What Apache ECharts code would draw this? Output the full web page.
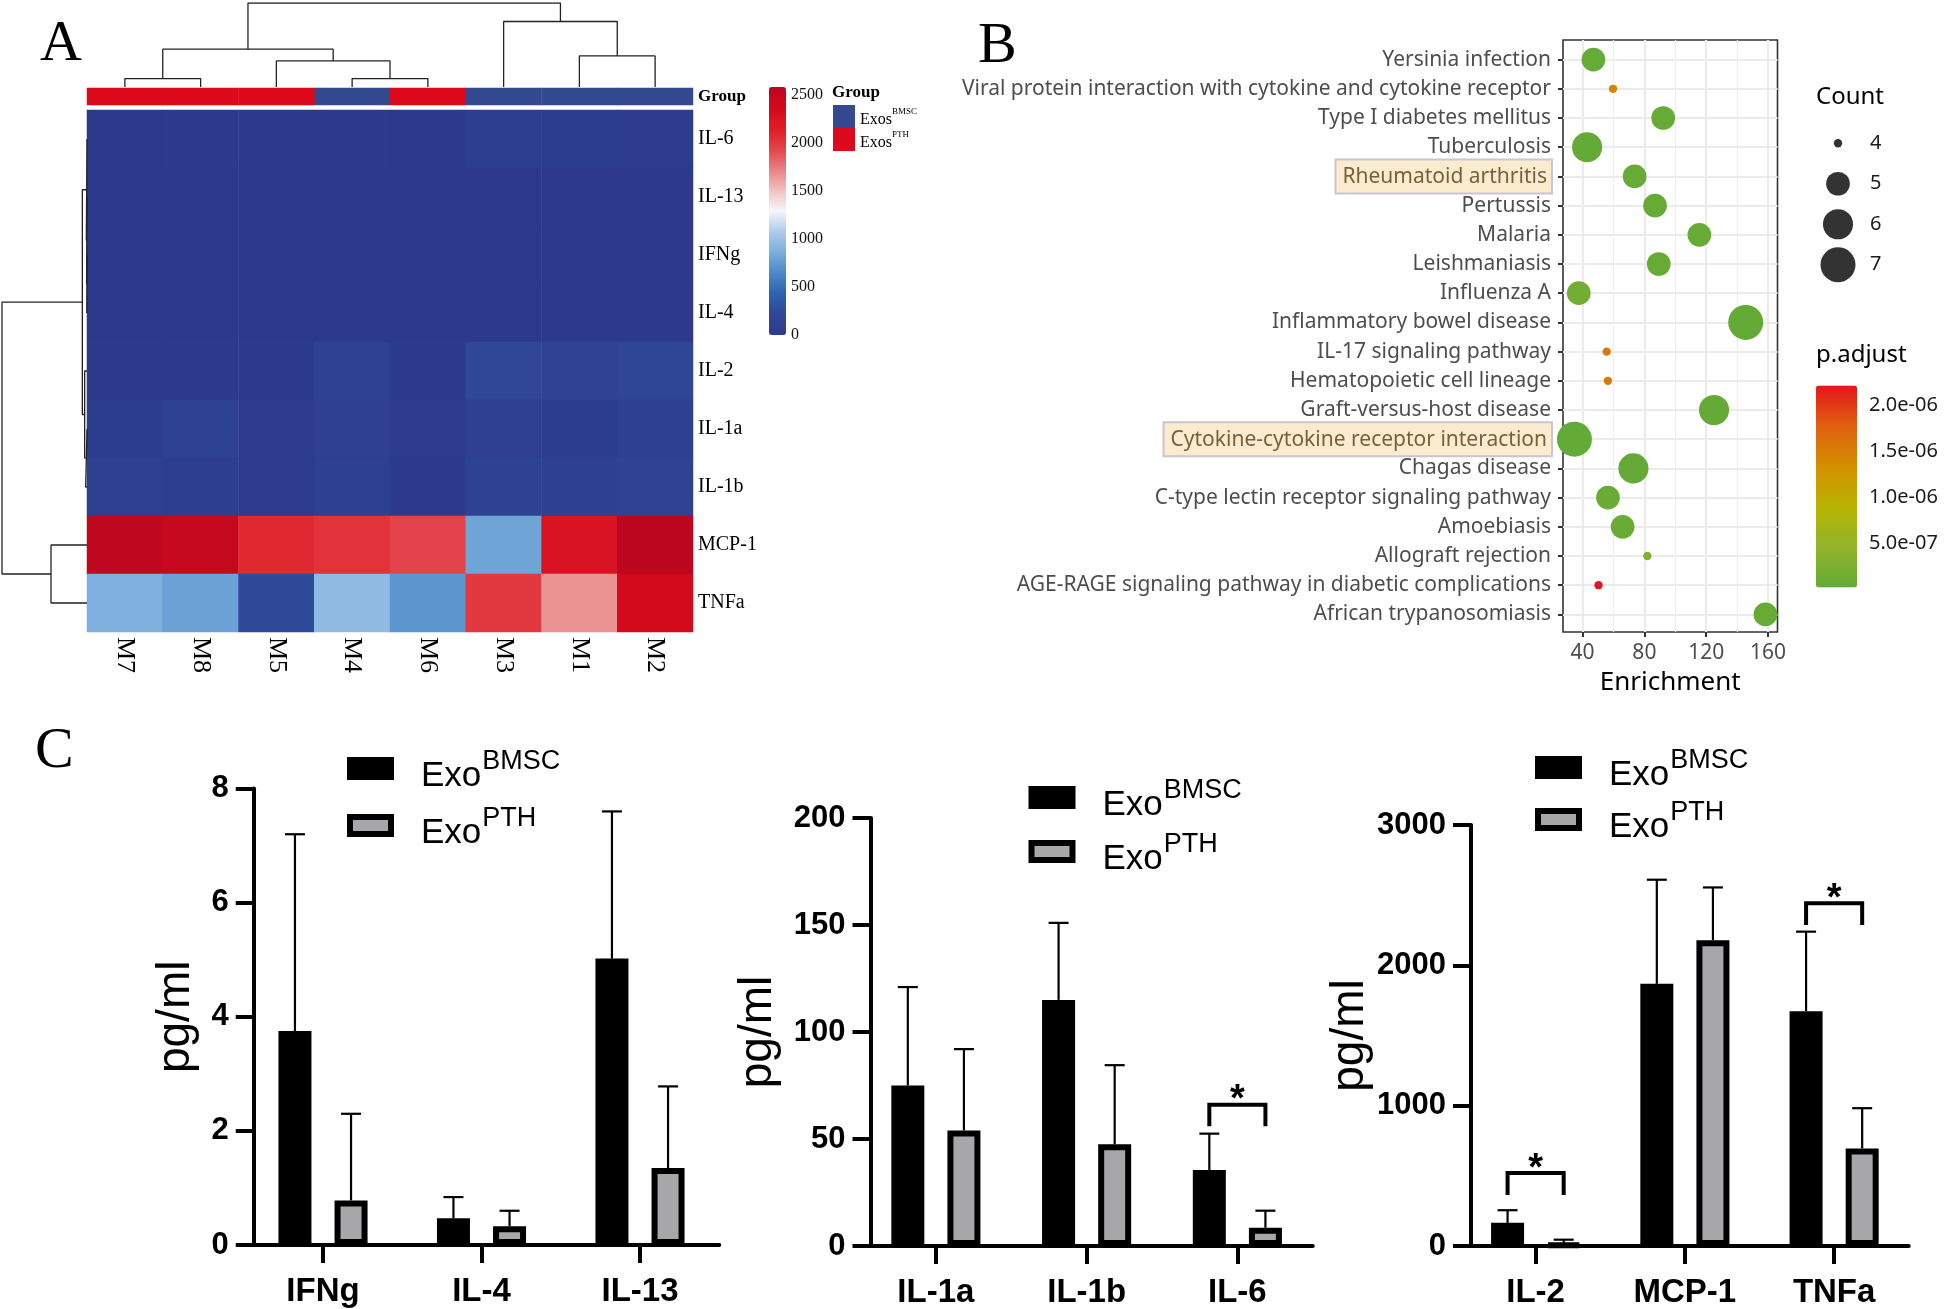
<!DOCTYPE html>
<html><head><meta charset="utf-8">
<script src="https://cdn.jsdelivr.net/npm/echarts@6/dist/echarts.min.js"></script>
<style>html,body{margin:0;padding:0;background:#fff}#c{width:1944px;height:1309px}</style>
</head><body><div id="c"></div>
<script>
// ================= Panel A: heatmap data =================
const heatCols = ['M7','M8','M5','M4','M6','M3','M1','M2'];
const heatRows = ['IL-6','IL-13','IFNg','IL-4','IL-2','IL-1a','IL-1b','MCP-1','TNFa'];
const colGroup = ['PTH','PTH','PTH','BMSC','PTH','BMSC','BMSC','BMSC'];
const vIL6  = [5, 10, 12, 12, 7, 60, 40, 30];
const vIL13 = [1.2, 1.5, 1.0, 4, 1.7, 6, 5, 5];
const vIFNg = [0.5, 1.0, 0.6, 3, 1.0, 4.5, 3.5, 4];
const vIL4  = [0.3, 0.4, 0.3, 0.4, 0.3, 0.6, 0.4, 0.5];
const vIL2  = [15, 12, 10, 130, 11, 200, 150, 180];
const vIL1a = [40, 120, 30, 80, 25, 70, 50, 100];
const vIL1b = [80, 60, 30, 100, 20, 120, 90, 150];
const vMCP1 = [2550, 2480, 2080, 2030, 1940, 800, 2260, 2560];
const vTNFa = [870, 790, 230, 950, 720, 2000, 1660, 2370];
const heatMax = 2583;
const heatTicks = [0, 500, 1000, 1500, 2000, 2500];
const heatPalette = ['#2D3A8C','#2F4896','#2E63AD','#4C89C7','#7CAEDC','#AFCBEA','#F5F7FB','#F2C0C0','#E98282','#E3444A','#E01B25','#D20A1C','#BB0620'];
// dendrograms: [childA, childB, height]; strings = leaves, numbers = earlier merge (1-based)
const colTree = [['M7','M8',10],['M4','M6',10],['M5',2,31],[1,3,45],['M1','M2',37],['M3',5,78],[4,6,100]];
const rowTree = [['IFNg','IL-4',0.6],['IL-13',1,1.2],['IL-6',2,2],['IL-1a','IL-1b',4],['IL-2',4,7],[3,5,14],['MCP-1','TNFa',108],[6,7,255]];

// ================= Panel B: enrichment data =================
const pathways = ['Yersinia infection','Viral protein interaction with cytokine and cytokine receptor','Type I diabetes mellitus','Tuberculosis','Rheumatoid arthritis','Pertussis','Malaria','Leishmaniasis','Influenza A','Inflammatory bowel disease','IL-17 signaling pathway','Hematopoietic cell lineage','Graft-versus-host disease','Cytokine-cytokine receptor interaction','Chagas disease','C-type lectin receptor signaling pathway','Amoebiasis','Allograft rejection','AGE-RAGE signaling pathway in diabetic complications','African trypanosomiasis'];
const enrichment = [47, 59.7, 92.2, 42.9, 73.7, 86.9, 115.6, 89.3, 37.5, 145.6, 55.6, 56.4, 125.1, 34.7, 72.9, 56.4, 65.9, 81.9, 50.3, 158.4];
const geneCount  = [5, 4, 5, 6, 5, 5, 5, 5, 5, 7, 4, 4, 6, 7, 6, 5, 5, 4, 4, 5];
const pAdjust    = [4e-8, 1.45e-6, 5e-8, 2e-8, 5e-8, 5e-8, 5e-8, 5e-8, 1.6e-7, 2e-8, 1.55e-6, 1.55e-6, 3e-8, 1.5e-8, 3e-8, 7e-8, 7e-8, 2.9e-7, 2.21e-6, 5e-8];
const highlighted = ['Rheumatoid arthritis','Cytokine-cytokine receptor interaction'];
const enrichTicks = [40, 80, 120, 160];
const enrichMinor = [60, 100, 140];
const countLegend = [4, 5, 6, 7];
const pTicks = [5e-7, 1e-6, 1.5e-6, 2e-6];
const pMin = 1.5e-8, pMax = 2.21e-6;

// ================= Panel C: ELISA data =================
const c1Cats = ['IFNg','IL-4','IL-13'];
const c1Bmsc = [3.75, 0.47, 5.02];  const c1BmscSd = [3.45, 0.37, 2.58];
const c1Pth  = [0.78, 0.33, 1.35];  const c1PthSd  = [1.52, 0.27, 1.43];
const c2Cats = ['IL-1a','IL-1b','IL-6'];
const c2Bmsc = [75, 115, 35.5];     const c2BmscSd = [46, 36, 17];
const c2Pth  = [54, 47.5, 8.5];     const c2PthSd  = [38, 37, 8];
const c3Cats = ['IL-2','MCP-1','TNFa'];
const c3Bmsc = [165, 1868, 1673];   const c3BmscSd = [90, 742, 567];
const c3Pth  = [12, 2178, 695];     const c3PthSd  = [33, 377, 287];
// significance brackets: [category index, bracket top, leg bottom]
const c2Sig = [[2, 66, 56]];
const c3Sig = [[0, 520, 363], [2, 2443, 2288]];

// ================= build =================
const SERIF = 'Liberation Serif', SANS = 'Liberation Sans', NOTO = 'Noto Sans';
const rowVals = [vIL6, vIL13, vIFNg, vIL4, vIL2, vIL1a, vIL1b, vMCP1, vTNFa];
const heatData = [];
rowVals.forEach((arr, r) => arr.forEach((v, c) => heatData.push([c, r, v])));

function buildLinks(leaves, tree) {
  const pos = {}; leaves.forEach((n, i) => pos[n] = i);
  const nodes = [], links = [];
  const get = ref => typeof ref === 'string' ? {x: pos[ref], h: 0} : nodes[ref - 1];
  tree.forEach(([a, b, h]) => {
    const A = get(a), B = get(b);
    links.push([[A.x, A.h], [A.x, h], [B.x, h], [B.x, B.h]]);
    nodes.push({x: (A.x + B.x) / 2, h: h});
  });
  return links;
}
const colLinks = buildLinks(heatCols, colTree);
const rowLinks = buildLinks(heatRows, rowTree);

const series = [];
const hide = {show: false};
series.push({type:'heatmap', xAxisIndex:0, yAxisIndex:0, data: heatData, emphasis:{disabled:true}, silent:true});
series.push({type:'heatmap', name:'Exos_BMSC', xAxisIndex:1, yAxisIndex:1, itemStyle:{color:'#34498F'},
  data: colGroup.map((g,i)=> g==='BMSC' ? [i,0,1] : null).filter(Boolean), silent:true});
series.push({type:'heatmap', name:'Exos_PTH', xAxisIndex:1, yAxisIndex:1, itemStyle:{color:'#DC0A1C'},
  data: colGroup.map((g,i)=> g==='PTH' ? [i,0,1] : null).filter(Boolean), silent:true});
colLinks.forEach(l => series.push({type:'line', xAxisIndex:2, yAxisIndex:2, data:l, symbol:'none', silent:true,
  lineStyle:{color:'#222', width:1.3}}));
rowLinks.forEach(l => series.push({type:'line', xAxisIndex:3, yAxisIndex:3, data:l.map(p=>[p[1],p[0]]), symbol:'none', silent:true,
  lineStyle:{color:'#222', width:1.3}}));

function countSize(c) { const t = (c - 4) / 3; return 3 + 32 * (1 + 5 * Math.sqrt(Math.max(t,0))) / 6; }
const scatterIndex = series.length;
series.push({type:'scatter', xAxisIndex:5, yAxisIndex:5, silent:true,
  data: pathways.map((p,i)=>[enrichment[i], p, geneCount[i], pAdjust[i]]),
  encode:{x:0, y:1}, symbolSize: v => countSize(v[2]), itemStyle:{opacity:1}});
series.push({type:'scatter', xAxisIndex:6, yAxisIndex:6, silent:true,
  data: countLegend.map(c => [0, String(c), c]), symbolSize: v => countSize(v[2]), itemStyle:{color:'#000'}});

// Panel C
const BAR_W = 33, BAR_GAP = 0.7, BAR_OFF = BAR_W * (1 + BAR_GAP) / 2;
function errRender(sign) {
  return function (params, api) {
    const x = api.value(0), m = api.value(1), sd = api.value(2);
    const p0 = api.coord([x, m]), p1 = api.coord([x, m + sd]);
    const cx = p0[0] + sign * BAR_OFF;
    return {type:'group', children:[
      {type:'line', shape:{x1:cx, y1:p0[1], x2:cx, y2:p1[1]}, style:{stroke:'#000', lineWidth:2.2}},
      {type:'line', shape:{x1:cx-10, y1:p1[1], x2:cx+10, y2:p1[1]}, style:{stroke:'#000', lineWidth:2.2}}
    ]};
  };
}
function sigRender(params, api) {
  const x = api.value(0);
  const t = api.coord([x, api.value(1)]), b = api.coord([x, api.value(2)]);
  const x1 = t[0] - BAR_OFF, x2 = t[0] + BAR_OFF;
  return {type:'group', children:[
    {type:'polyline', shape:{points:[[x1,b[1]],[x1,t[1]],[x2,t[1]],[x2,b[1]]]}, style:{stroke:'#000', lineWidth:4, fill:null}},
    {type:'text', style:{text:'*', x:t[0], y:t[1]-4, align:'center', verticalAlign:'middle', font:'bold 38px "Liberation Sans"', fill:'#000'}}
  ]};
}
const cSets = [
  [c1Cats, c1Bmsc, c1BmscSd, c1Pth, c1PthSd, []],
  [c2Cats, c2Bmsc, c2BmscSd, c2Pth, c2PthSd, c2Sig],
  [c3Cats, c3Bmsc, c3BmscSd, c3Pth, c3PthSd, c3Sig]
];
cSets.forEach((s, k) => {
  const xi = 10 + k, yi = 9 + k;
  series.push({type:'bar', name:'ExoBMSC', xAxisIndex:xi, yAxisIndex:yi, data:s[1], barWidth:BAR_W, barGap:(BAR_GAP*100)+'%',
    itemStyle:{color:'#000', borderColor:'#000', borderWidth:6}, silent:true});
  series.push({type:'bar', name:'ExoPTH', xAxisIndex:xi, yAxisIndex:yi, data:s[3], barWidth:BAR_W, barGap:(BAR_GAP*100)+'%',
    itemStyle:{color:'#A7A7AA', borderColor:'#000', borderWidth:6}, silent:true});
  series.push({type:'custom', name:'errB'+k, xAxisIndex:xi, yAxisIndex:yi, z:1, silent:true,
    data:s[1].map((m,i)=>[i,m,s[2][i]]), renderItem: errRender(-1)});
  series.push({type:'custom', name:'errP'+k, xAxisIndex:xi, yAxisIndex:yi, z:1, silent:true,
    data:s[3].map((m,i)=>[i,m,s[4][i]]), renderItem: errRender(1)});
  if (s[5].length) series.push({type:'custom', name:'sig'+k, xAxisIndex:xi, yAxisIndex:yi, z:3, silent:true,
    data:s[5], renderItem: sigRender});
});

function sci(v) {
  const e = Math.floor(Math.log10(v) + 1e-9), m = v / Math.pow(10, e);
  return m.toFixed(1) + 'e' + (e < 0 ? '-' : '+') + String(Math.abs(e)).padStart(2, '0');
}
const plain = v => String(v);

const cGrids = [
  {left:243.75, top:788.6, width:475.5, height:456.4},
  {left:860.5, top:818, width:452.25, height:436},
  {left:1461, top:825, width:447.75, height:425.5}
];
const cY = [{max:8, interval:2, gap:54}, {max:200, interval:50, gap:89}, {max:3000, interval:1000, gap:94}];
const B_LEFT = 1563, B_W = 214.5, X_MIN = 27.3, X_MAX = 166.2;

const grids = [
  {left:87, top:110, width:606, height:522},      // 0 heatmap
  {left:87, top:88, width:606, height:17},        // 1 group bar
  {left:87, top:3, width:606, height:84},         // 2 col dendrogram
  {left:2, top:110, width:85, height:522},        // 3 row dendrogram
  {left:769, top:87, width:17, height:248},       // 4 colorbar A labels
  {left:B_LEFT, top:45, width:B_W, height:584},   // 5 B scatter
  {left:1824, top:123, width:28, height:162},     // 6 count legend
  {left:1816, top:385.5, width:41, height:202}    // 7 p colorbar axes
].concat(cGrids).concat([
  {left:B_LEFT, top:40, width:B_W, height:592, show:true, borderColor:'#333', borderWidth:1.6, backgroundColor:'transparent'} // 11 B frame
]);

const xAxes = [
  {gridIndex:0, type:'category', data:heatCols, position:'bottom', axisLine:hide, axisTick:hide,
    axisLabel:{interval:0, rotate:-90, margin:5, fontFamily:SERIF, fontSize:26, color:'#000'}},
  {gridIndex:1, type:'category', data:heatCols, show:false},
  {gridIndex:2, type:'value', min:-0.5, max:7.5, show:false},
  {gridIndex:3, type:'value', min:0, max:255, inverse:true, show:false},
  {gridIndex:4, type:'value', min:0, max:1, show:false},
  {gridIndex:5, type:'value', min:X_MIN, max:X_MAX, show:false},
  {gridIndex:6, type:'value', min:-1, max:1, show:false},
  {gridIndex:7, type:'value', min:0, max:1, show:false},
  {gridIndex:11, type:'value', min:X_MIN, max:X_MAX, position:'bottom',
    axisLine:{show:false}, axisTick:{show:true, length:5, customValues:enrichTicks, lineStyle:{color:'#333', width:2}},
    axisLabel:{customValues:enrichTicks, margin:11, fontFamily:NOTO, fontSize:21, color:'#4D4D4D'},
    splitLine:{show:true, lineStyle:{color:'#EBEBEB', width:2.2}},
    name:'Enrichment', nameLocation:'middle', nameGap:38, nameTextStyle:{fontFamily:NOTO, fontSize:26, color:'#000'}},
  {gridIndex:11, type:'value', min:X_MIN, max:X_MAX, position:'top', axisLine:hide, axisLabel:hide,
    axisTick:{show:false, customValues:enrichMinor}, splitLine:{show:true, lineStyle:{color:'#EFEFEF', width:1.2}}}
];
const yAxes = [
  {gridIndex:0, type:'category', data:heatRows, inverse:true, position:'right', axisLine:hide, axisTick:hide,
    axisLabel:{interval:0, margin:5, fontFamily:SERIF, fontSize:20, color:'#000'}},
  {gridIndex:1, type:'category', data:['Group'], position:'right', axisLine:hide, axisTick:hide,
    axisLabel:{margin:5, fontFamily:SERIF, fontSize:17, fontWeight:'bold', color:'#000'}},
  {gridIndex:2, type:'value', min:0, max:100, show:false},
  {gridIndex:3, type:'value', min:-0.5, max:8.5, inverse:true, show:false},
  {gridIndex:4, type:'value', min:0, max:heatMax, position:'right', axisLine:hide, splitLine:hide,
    axisTick:{show:false, customValues:heatTicks},
    axisLabel:{customValues:heatTicks, formatter:plain, margin:5, fontFamily:SERIF, fontSize:16, color:'#111'}},
  {gridIndex:5, type:'category', data:pathways, inverse:true, position:'left', axisLine:hide,
    axisTick:{show:true, alignWithLabel:true, interval:0, length:5, lineStyle:{color:'#333', width:2}},
    splitLine:{show:true, alignWithLabel:true, interval:0, lineStyle:{color:'#EBEBEB', width:2.2}},
    axisLabel:{interval:0, margin:12, fontFamily:NOTO, fontSize:21, color:'#4D4D4D',
      formatter: v => highlighted.indexOf(v) >= 0 ? '{hl|' + v + '}' : v,
      rich:{hl:{fontFamily:NOTO, fontSize:21, color:'#7A5F3C', backgroundColor:'#FBEBCF',
        borderColor:'#C9C6D3', borderWidth:2, padding:[6,4,5,6]}}}},
  {gridIndex:6, type:'category', data:countLegend.map(String), inverse:true, position:'right', axisLine:hide, axisTick:hide,
    axisLabel:{margin:18, fontFamily:NOTO, fontSize:20, color:'#1A1A1A'}},
  {gridIndex:7, type:'value', min:pMin, max:pMax, position:'right', axisLine:hide, splitLine:hide,
    axisTick:{show:true, inside:true, length:8, customValues:pTicks, lineStyle:{color:'#fff', width:1.5}},
    axisLabel:{customValues:pTicks, margin:12, formatter: v => sci(v), fontFamily:NOTO, fontSize:20, color:'#1A1A1A'}},
  {gridIndex:7, type:'value', min:pMin, max:pMax, position:'left', axisLine:hide, splitLine:hide, axisLabel:hide,
    axisTick:{show:true, inside:true, length:8, customValues:pTicks, lineStyle:{color:'#fff', width:1.5}}}
];
cSets.forEach((s, k) => {
  yAxes.push({gridIndex:8+k, type:'value', min:0, max:cY[k].max, interval:cY[k].interval, offset:-10,
    axisLine:{show:true, lineStyle:{color:'#000', width:4}},
    axisTick:{show:true, length:18, lineStyle:{color:'#000', width:4}},
    axisLabel:{margin:25, formatter:plain, fontFamily:SANS, fontWeight:'bold', fontSize:31, color:'#000'},
    splitLine:hide,
    name:'pg/ml', nameLocation:'middle', nameRotate:90, nameGap:cY[k].gap,
    nameTextStyle:{fontFamily:SANS, fontSize:46, color:'#000'}});
});
cSets.forEach((s, k) => {
  xAxes.push({gridIndex:8+k, type:'category', data:s[0],
    axisLine:{show:true, lineStyle:{color:'#000', width:4}},
    axisTick:{show:true, alignWithLabel:true, length:18, lineStyle:{color:'#000', width:4}},
    axisLabel:{interval:0, margin:30, fontFamily:SANS, fontWeight:'bold', fontSize:33, color:'#000'}});
});
yAxes.push({gridIndex:11, type:'value', min:0, max:1, show:false});

const cLegendRich = {
  b:{fontFamily:SANS, fontSize:35, color:'#000', lineHeight:36, padding:[16,0,0,25]},
  s:{fontFamily:SANS, fontSize:27, color:'#000', lineHeight:28, padding:[5,0,19,1]}
};
function cLegend(left, top, gap) {
  return {left:left, top:top, orient:'vertical', padding:0, itemWidth:41, itemHeight:17, itemGap:gap, icon:'rect', selectedMode:false,
    data:[{name:'ExoBMSC', itemStyle:{color:'#000', borderColor:'#000', borderWidth:6}},
          {name:'ExoPTH', itemStyle:{color:'#A7A7AA', borderColor:'#000', borderWidth:6}}],
    formatter: n => '{b|Exo}{s|' + n.slice(3) + '}', textStyle:{rich:cLegendRich}};
}

const titleStyle = {fontFamily:SERIF, fontSize:58, fontWeight:'normal', color:'#000'};
const option = {
  animation:false,
  backgroundColor:'#fff',
  title:[
    {text:'A', left:40, top:16, padding:0, textStyle:titleStyle},
    {text:'B', left:978, top:18, padding:0, textStyle:titleStyle},
    {text:'C', left:35, top:723, padding:0, textStyle:titleStyle},
    {text:'Group', left:832, top:84, padding:0, textStyle:{fontFamily:SERIF, fontSize:17, fontWeight:'bold', color:'#000'}},
    {text:'Count', left:1816, top:85, padding:0, textStyle:{fontFamily:NOTO, fontSize:24, fontWeight:'normal', color:'#000'}},
    {text:'p.adjust', left:1816, top:343, padding:0, textStyle:{fontFamily:NOTO, fontSize:24, fontWeight:'normal', color:'#000'}}
  ],
  grid: grids, xAxis: xAxes, yAxis: yAxes,
  visualMap:[
    {type:'continuous', seriesIndex:0, dimension:2, min:0, max:heatMax, inRange:{color:heatPalette},
      show:true, left:769, top:87, itemWidth:17, itemHeight:248, padding:0, calculable:false, hoverLink:false, text:null},
    {type:'continuous', seriesIndex:scatterIndex, dimension:3, min:pMin, max:pMax,
      inRange:{color:['#63AA37','#92B52A','#B6B300','#D48F00','#E06010','#E4161C']},
      show:true, left:1816, top:385.5, itemWidth:41, itemHeight:202, padding:0, calculable:false, hoverLink:false, text:null}
  ],
  legend:[
    {left:833, top:105, orient:'vertical', padding:0, itemWidth:22, itemHeight:23, itemGap:0, icon:'rect', selectedMode:false,
      data:['Exos_BMSC','Exos_PTH'], formatter: n => '{b|Exos}{s|' + n.split('_')[1] + '}',
      textStyle:{rich:{b:{fontFamily:SERIF, fontSize:16, color:'#000', lineHeight:18, padding:[6,0,0,0]},
                       s:{fontFamily:SERIF, fontSize:9, color:'#000', lineHeight:10, verticalAlign:'top'}}}},
    cLegend(347, 743, 6),
    cLegend(1028.5, 772, 3),
    cLegend(1535, 742, 1)
  ],
  series: series
};
const chart = echarts.init(document.getElementById('c'), null, {renderer:'canvas', width:1944, height:1309});
chart.setOption(option);
</script>
</body></html>
